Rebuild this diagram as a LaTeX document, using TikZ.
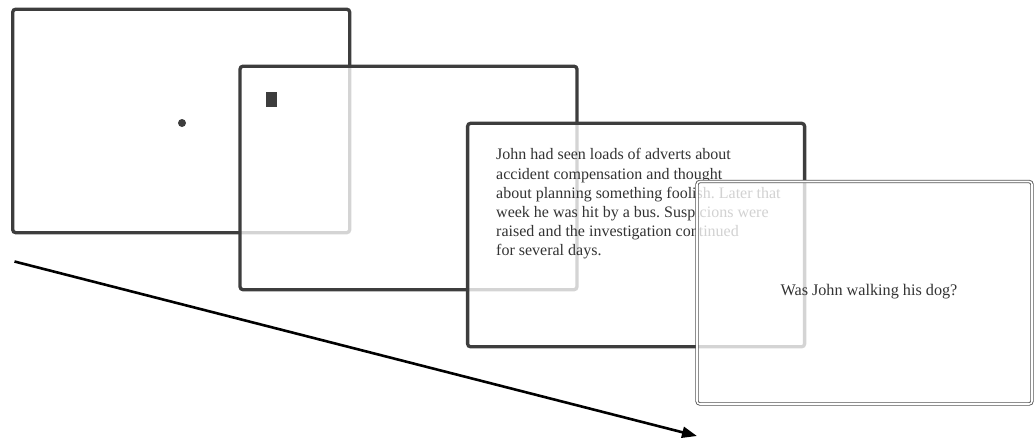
\documentclass[tikz,border=0pt]{standalone}
\usepackage{fontspec}
\setmainfont{Liberation Serif}
\usetikzlibrary{arrows.meta}
\frenchspacing
\definecolor{framegray}{HTML}{3D3D3D}
\definecolor{inkgray}{HTML}{333333}
\definecolor{rimgray}{HTML}{555555}
\tikzset{
  screen/.style={draw=framegray, line width=3.3pt, rounded corners=3pt,
    fill=white, fill opacity=0.78, draw opacity=1,
    minimum width=337pt, minimum height=223.5pt,
    anchor=north west, inner sep=0pt, outer sep=0pt},
  lastscreen/.style={screen, draw=rimgray, line width=0.9pt,
    double=white, double distance=1.6pt, minimum width=335pt, minimum height=222.5pt},
  story/.style={anchor=north west, inner sep=0pt, align=left, text=inkgray,
    font=\fontsize{16}{19.2}\selectfont},
  question/.style={anchor=base, inner sep=0pt, text=inkgray,
    font=\fontsize{16.2}{19}\selectfont},
  timeline/.style={line width=2.6pt, -{Triangle[length=15pt,width=11pt]}}
}
\begin{document}
\begin{tikzpicture}[x=1pt,y=-1pt]
  \useasboundingbox (0,0) rectangle (1034,437);
  % fixation screen
  \node[screen] (s1) at (12.7,9.2) {};
  \fill[framegray] (182,123) circle (4pt);
  % cue screen
  \node[screen] (s2) at (240,66.2) {};
  \fill[framegray] (266,92) rectangle (277,106.5);
  % passage screen
  \node[screen] (s3) at (467.6,123.3) {};
  \node[story] (passage) at (496,148.5) {John had seen loads of adverts about\\
    accident compensation and thought\\
    about planning something foolish. Later that\\
    week he was hit by a bus. Suspicions were\\
    raised and the investigation continued\\
    for several days.};
  % question screen
  \node[lastscreen] (s4) at (697,181.5) {};
  \node[question] (q) at (869,295.5) {Was John walking his dog?};
  % time axis
  \coordinate (tstart) at (14.5,261.5);
  \coordinate (tend) at (697,436);
  \draw[timeline] (tstart) -- (tend);
\end{tikzpicture}
\end{document}
